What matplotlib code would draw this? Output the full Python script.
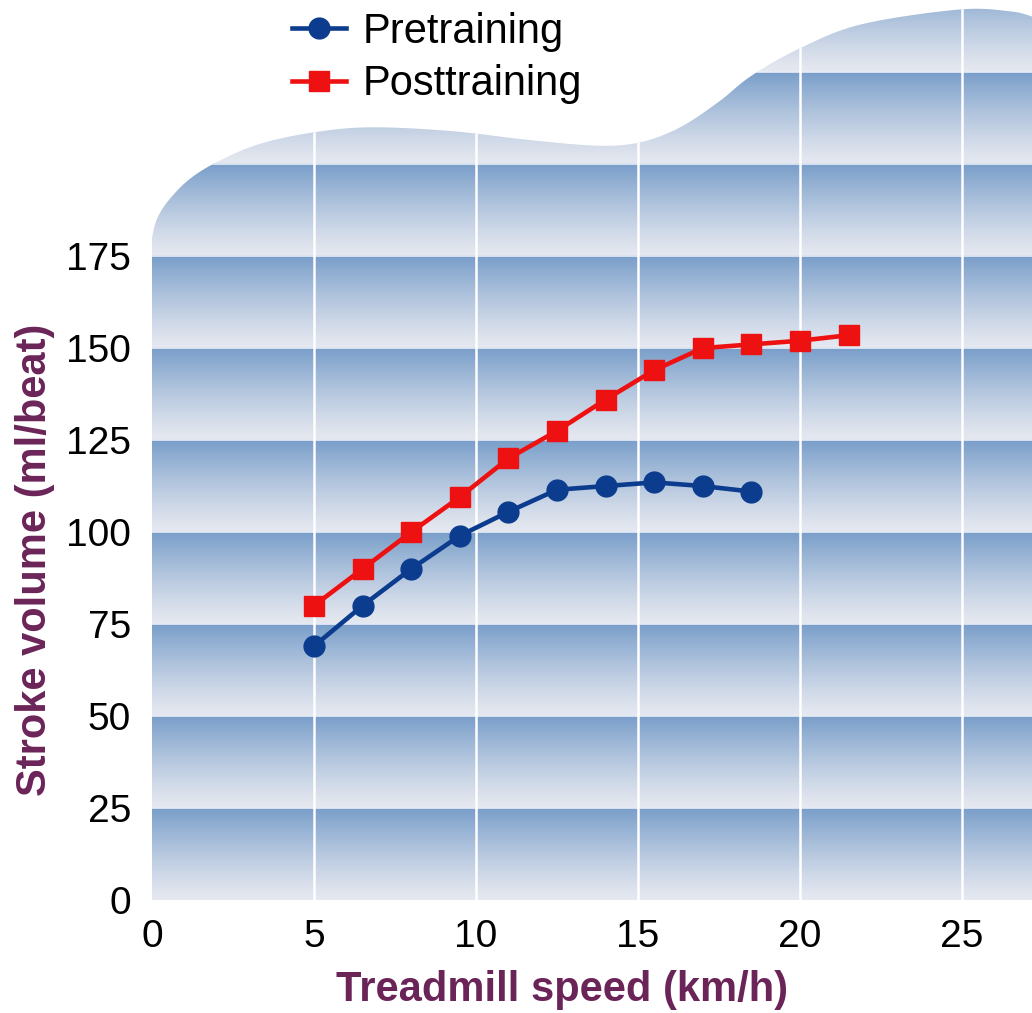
import numpy as np
import matplotlib
matplotlib.use('Agg')
import matplotlib.pyplot as plt
from matplotlib.patches import Polygon
from matplotlib.lines import Line2D

plt.rcParams['font.family'] = ['Liberation Sans', 'DejaVu Sans']

# Data
speed_pre = [5, 6.5, 8, 9.5, 11, 12.5, 14, 15.5, 17, 18.5]
sv_pre = [69, 80, 90, 99, 105.5, 111.5, 112.5, 113.5, 112.5, 111]
speed_post = [5, 6.5, 8, 9.5, 11, 12.5, 14, 15.5, 17, 18.5, 20, 21.5]
sv_post = [80, 90, 100, 109.5, 120, 127.5, 136, 144, 150, 151, 152, 153.5]

x_ticks = [0, 5, 10, 15, 20, 25]
y_ticks = [0, 25, 50, 75, 100, 125, 150, 175]

# wavy top of the decorative background (data units)
wave_x = [0, 0.15, 0.5, 1.17, 2.1, 3.33, 4.9, 6.7, 9.2, 11.7, 13.8, 15.1, 16.3,
          17.5, 18.5, 20, 21.9, 24.9, 26.5, 27.2]
wave_y = [180, 185, 190, 196, 201, 205.5, 208.5, 210, 209, 206.5, 205, 206, 210,
          217, 224, 231.5, 238, 242, 241.5, 240]

xmax, ymax = 27.16, 244.6


def smooth(px, py, n=20):
    # Catmull-Rom through the outline points
    p = np.column_stack([px, py])
    p = np.vstack([p[0], p, p[-1]])
    out = []
    for i in range(1, len(p) - 2):
        p0, p1, p2, p3 = p[i - 1], p[i], p[i + 1], p[i + 2]
        for s in np.linspace(0, 1, n, endpoint=False):
            out.append(0.5 * ((2 * p1) + (-p0 + p2) * s
                              + (2 * p0 - 5 * p1 + 4 * p2 - p3) * s ** 2
                              + (-p0 + 3 * p1 - 3 * p2 + p3) * s ** 3))
    out.append(p[-2])
    return np.array(out)


fig = plt.figure(figsize=(10.32, 10.13), dpi=100)
ax = fig.add_axes([152 / 1032, 113 / 1013, 1 - 152 / 1032, 900 / 1013])
ax.set_xlim(0, xmax)
ax.set_ylim(0, ymax)

# background polygon
curve = smooth(wave_x, wave_y)
verts = np.vstack([[[0, 0], [xmax, 0]], curve[::-1]])
clip = Polygon(verts, closed=True, facecolor='none', edgecolor='none')
ax.add_patch(clip)

# banded gradient image
ys = np.linspace(0, ymax, 900)
t = (ys % 25) / 25.0
dark = np.array([0.47, 0.62, 0.79])
light = np.array([0.90, 0.91, 0.94])
cols = light[None, :] + (dark - light)[None, :] * (t[:, None] ** 1.2)
img = np.repeat(cols[:, None, :], 2, axis=1)
im = ax.imshow(img, extent=[0, xmax, 0, ymax], origin='lower', aspect='auto',
               interpolation='bilinear', zorder=0)
im.set_clip_path(clip)

# grid lines
for y in range(25, 250, 25):
    ln = ax.axhline(y, color='#e8eef6', lw=1.2, zorder=1)
    ln.set_clip_path(clip)
for x in x_ticks[1:]:
    ln = ax.axvline(x, color='white', lw=1.8, zorder=1)
    ln.set_clip_path(clip)

blue, red = '#0b3c8e', '#ee1111'
ax.plot(speed_pre, sv_pre, color=blue, lw=3.3, marker='o', ms=15, zorder=3)
ax.plot(speed_post, sv_post, color=red, lw=3.3, marker='s', ms=14.5, zorder=3)

for s in ax.spines.values():
    s.set_visible(False)
ax.set_xticks(x_ticks)
ax.set_yticks(y_ticks)
ax.tick_params(length=0, labelsize=28)
ax.tick_params(axis='x', pad=14)
ax.tick_params(axis='y', pad=15)

purple = '#6b2458'
fig.text(562 / 1032, 1 - 990 / 1013, 'Treadmill speed (km/h)', color=purple,
         fontsize=30, fontweight='bold', ha='center', va='center')
fig.text(35 / 1032, 1 - 560 / 1013, 'Stroke volume (ml/beat)', color=purple,
         fontsize=30, fontweight='bold', ha='center', va='center', rotation=90)

handles = [Line2D([], [], color=blue, lw=3.3, marker='o', ms=15),
           Line2D([], [], color=red, lw=3.3, marker='s', ms=14.5)]
fig.legend(handles, ['Pretraining', 'Posttraining'], loc='upper left',
           bbox_to_anchor=(292 / 1032, 1 - 12 / 1013), frameon=False, fontsize=30,
           handlelength=1.3, handletextpad=0.4, labelspacing=0.3,
           borderaxespad=0, borderpad=0)

fig.savefig('out.png', dpi=100)
